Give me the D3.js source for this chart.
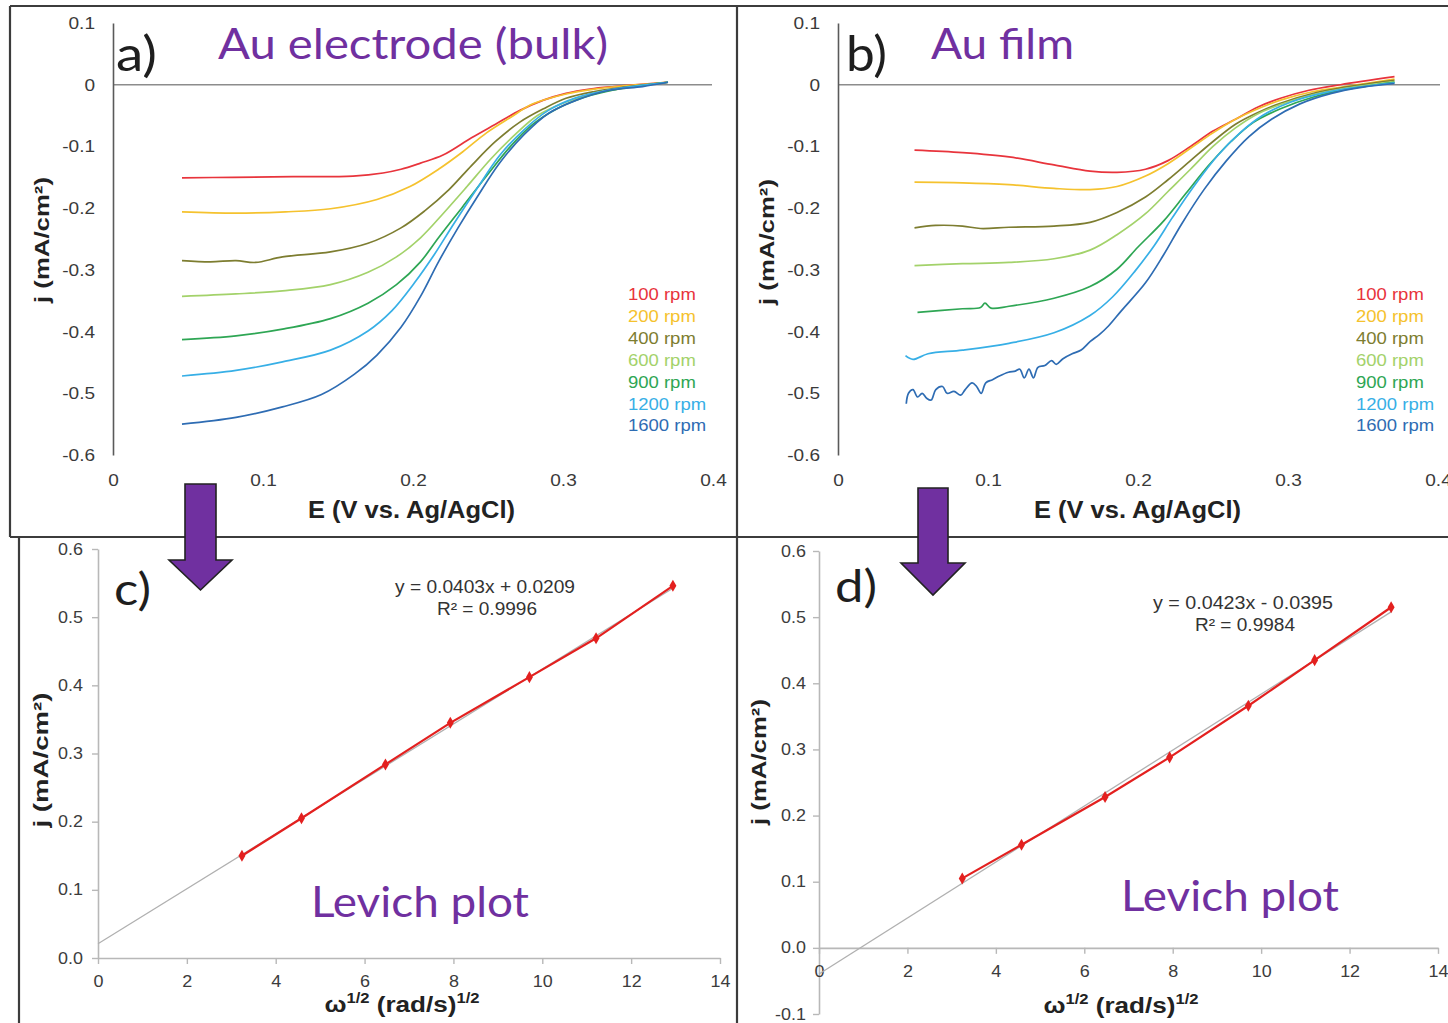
<!DOCTYPE html>
<html><head><meta charset="utf-8">
<script src="https://cdn.jsdelivr.net/npm/d3@7"></script>
<style>
body{margin:0;background:#fff;}
svg{display:block;}
</style></head><body>
<svg id="chart" width="1448" height="1023"></svg>
<script>
// ---------------- DATA ----------------
const rpmLabels = ["100 rpm","200 rpm","400 rpm","600 rpm","900 rpm","1200 rpm","1600 rpm"];
const eTicks = [0, 0.1, 0.2, 0.3, 0.4];
const eTickLabels = ["0","0.1","0.2","0.3","0.4"];
const jTicksLSV = [-0.6,-0.5,-0.4,-0.3,-0.2,-0.1,0,0.1];
const jTickLabelsLSV = ["-0.6","-0.5","-0.4","-0.3","-0.2","-0.1","0","0.1"];

// Panel a: Au electrode (bulk), [E (V), j (mA/cm2)]
const bulk100 = [[0.046,-0.151],[0.08,-0.150],[0.12,-0.149],[0.16,-0.148],[0.18,-0.143],[0.192,-0.137],[0.205,-0.127],[0.22,-0.114],[0.239,-0.086],[0.255,-0.064],[0.271,-0.042],[0.287,-0.025],[0.302,-0.014],[0.318,-0.007],[0.334,-0.003],[0.35,0.0],[0.37,0.004]];
const bulk200 = [[0.046,-0.206],[0.082,-0.208],[0.115,-0.206],[0.145,-0.201],[0.176,-0.186],[0.198,-0.165],[0.217,-0.137],[0.233,-0.109],[0.249,-0.078],[0.265,-0.053],[0.28,-0.031],[0.302,-0.015],[0.321,-0.007],[0.34,-0.002],[0.37,0.004]];
const bulk400 = [[0.046,-0.285],[0.065,-0.287],[0.082,-0.285],[0.095,-0.288],[0.113,-0.279],[0.145,-0.271],[0.17,-0.257],[0.192,-0.232],[0.208,-0.204],[0.224,-0.170],[0.239,-0.131],[0.255,-0.092],[0.271,-0.061],[0.287,-0.039],[0.302,-0.022],[0.321,-0.011],[0.34,-0.004],[0.37,0.004]];
const bulk600 = [[0.046,-0.343],[0.082,-0.339],[0.113,-0.334],[0.145,-0.324],[0.17,-0.304],[0.189,-0.279],[0.205,-0.248],[0.22,-0.209],[0.236,-0.165],[0.252,-0.120],[0.268,-0.081],[0.283,-0.050],[0.302,-0.028],[0.321,-0.014],[0.343,-0.005],[0.37,0.004]];
const bulk900 = [[0.046,-0.413],[0.082,-0.407],[0.113,-0.396],[0.145,-0.379],[0.17,-0.354],[0.189,-0.324],[0.205,-0.287],[0.217,-0.248],[0.233,-0.198],[0.249,-0.148],[0.265,-0.100],[0.28,-0.064],[0.296,-0.039],[0.315,-0.020],[0.337,-0.007],[0.37,0.004]];
const bulk1200 = [[0.046,-0.472],[0.082,-0.463],[0.113,-0.449],[0.145,-0.430],[0.17,-0.399],[0.186,-0.366],[0.201,-0.321],[0.214,-0.276],[0.227,-0.226],[0.243,-0.167],[0.258,-0.114],[0.274,-0.073],[0.29,-0.042],[0.309,-0.021],[0.334,-0.007],[0.37,0.004]];
const bulk1600 = [[0.046,-0.550],[0.082,-0.539],[0.113,-0.522],[0.139,-0.502],[0.161,-0.469],[0.176,-0.438],[0.192,-0.393],[0.205,-0.343],[0.217,-0.287],[0.23,-0.232],[0.243,-0.181],[0.258,-0.126],[0.274,-0.081],[0.29,-0.047],[0.309,-0.025],[0.331,-0.009],[0.353,-0.003],[0.37,0.004]];

// Panel b: Au film
const film100 = [[0.051,-0.106],[0.083,-0.110],[0.114,-0.117],[0.144,-0.130],[0.168,-0.140],[0.186,-0.142],[0.205,-0.137],[0.22,-0.123],[0.235,-0.100],[0.25,-0.075],[0.265,-0.056],[0.28,-0.036],[0.295,-0.022],[0.314,-0.009],[0.335,0.0],[0.371,0.013]];
const film200 = [[0.051,-0.158],[0.083,-0.159],[0.114,-0.162],[0.144,-0.168],[0.168,-0.170],[0.186,-0.165],[0.205,-0.148],[0.22,-0.128],[0.235,-0.103],[0.25,-0.078],[0.265,-0.056],[0.28,-0.039],[0.295,-0.025],[0.317,-0.011],[0.338,-0.003],[0.371,0.009]];
const film400 = [[0.051,-0.232],[0.065,-0.228],[0.083,-0.229],[0.095,-0.233],[0.114,-0.231],[0.144,-0.229],[0.168,-0.223],[0.186,-0.207],[0.205,-0.182],[0.22,-0.154],[0.235,-0.123],[0.25,-0.092],[0.265,-0.064],[0.28,-0.045],[0.295,-0.030],[0.317,-0.014],[0.338,-0.004],[0.371,0.007]];
const film600 = [[0.051,-0.293],[0.083,-0.290],[0.114,-0.288],[0.144,-0.282],[0.168,-0.268],[0.186,-0.243],[0.205,-0.209],[0.22,-0.173],[0.235,-0.137],[0.25,-0.100],[0.265,-0.070],[0.28,-0.047],[0.295,-0.032],[0.317,-0.016],[0.338,-0.006],[0.371,0.005]];
const film900 = [[0.053,-0.369],[0.083,-0.363],[0.095,-0.361],[0.098,-0.354],[0.102,-0.362],[0.114,-0.359],[0.144,-0.346],[0.168,-0.327],[0.186,-0.299],[0.2,-0.263],[0.217,-0.221],[0.232,-0.176],[0.247,-0.131],[0.262,-0.092],[0.277,-0.061],[0.295,-0.039],[0.317,-0.020],[0.338,-0.008],[0.371,0.004]];
const film1200 = [[0.045,-0.439],[0.05,-0.445],[0.06,-0.436],[0.083,-0.430],[0.114,-0.419],[0.144,-0.402],[0.168,-0.374],[0.183,-0.344],[0.198,-0.302],[0.211,-0.260],[0.223,-0.215],[0.238,-0.162],[0.253,-0.115],[0.268,-0.078],[0.283,-0.050],[0.302,-0.028],[0.326,-0.012],[0.35,-0.003],[0.371,0.003]];
const film1600 = [[0.0455,-0.517],[0.047,-0.500],[0.050,-0.494],[0.053,-0.506],[0.0561,-0.500],[0.0591,-0.508],[0.0621,-0.511],[0.0652,-0.494],[0.0697,-0.489],[0.0727,-0.500],[0.0773,-0.497],[0.0818,-0.503],[0.0848,-0.494],[0.0894,-0.483],[0.0924,-0.489],[0.0955,-0.500],[0.0985,-0.483],[0.103,-0.478],[0.1076,-0.472],[0.1136,-0.466],[0.1182,-0.464],[0.1212,-0.461],[0.1242,-0.475],[0.1273,-0.461],[0.1303,-0.475],[0.1333,-0.458],[0.1379,-0.455],[0.1424,-0.447],[0.1455,-0.453],[0.15,-0.444],[0.1561,-0.436],[0.1621,-0.430],[0.1682,-0.416],[0.1742,-0.405],[0.1803,-0.391],[0.189,-0.366],[0.205,-0.321],[0.217,-0.276],[0.229,-0.226],[0.244,-0.170],[0.259,-0.123],[0.274,-0.084],[0.289,-0.056],[0.308,-0.031],[0.329,-0.014],[0.35,-0.004],[0.371,0.002]];

// Levich plots
const sqrtOmega = [3.24, 4.58, 6.47, 7.93, 9.71, 11.21, 12.94];
const levichBulk = [0.150, 0.205, 0.284, 0.345, 0.412, 0.469, 0.546];
const levichFilm = [0.105, 0.156, 0.228, 0.288, 0.366, 0.435, 0.515];
const trendBulk = [[0, 0.0209], [12.94, 0.5424]];
const trendFilm = [[0, -0.0395], [12.94, 0.5079]];
const omegaTicks = [0, 2, 4, 6, 8, 10, 12, 14];
const jTicksBulk = [0, 0.1, 0.2, 0.3, 0.4, 0.5, 0.6];
const jTickLabelsBulk = ["0.0","0.1","0.2","0.3","0.4","0.5","0.6"];
const jTicksFilm = [-0.1, 0, 0.1, 0.2, 0.3, 0.4, 0.5, 0.6];
const jTickLabelsFilm = ["-0.1","0.0","0.1","0.2","0.3","0.4","0.5","0.6"];
const eqBulk = ["y = 0.0403x + 0.0209", "R\u00B2 = 0.9996"];
const eqFilm = ["y = 0.0423x - 0.0395", "R\u00B2 = 0.9984"];

// ---------------- STYLE ----------------
const rpmColors = ["#e8343c","#f5c22e","#7d7d30","#a3d26a","#2ea654","#37afe6","#2e6cb3"];
const SANS = "'Liberation Sans', Arial, sans-serif";
const CAL = "Lato, 'Open Sans', sans-serif";
const PURPLE = "#7030a0";
const STRETCH = 1.12;

const svg = d3.select("#chart");

function stretchText(sel, f){
  sel.each(function(){
    const w = this.getComputedTextLength();
    if (w > 0){ this.setAttribute("textLength", (w*f).toFixed(1)); this.setAttribute("lengthAdjust","spacingAndGlyphs"); }
  });
}
function fitText(sel, w){ sel.attr("textLength", w).attr("lengthAdjust","spacingAndGlyphs"); }

// ---------------- FRAMES ----------------
const frame = svg.append("g").attr("stroke","#3c3c3c").attr("stroke-width",2.2);
[[10,6,1448,6],[10,6,10,537],[737,6,737,1023],[10,537,1448,537],[19,537,19,1023]].forEach(l=>{
  frame.append("line").attr("x1",l[0]).attr("y1",l[1]).attr("x2",l[2]).attr("y2",l[3]);
});

// ---------------- LSV PANELS ----------------
function lsvPanel(cfg){
  const x = d3.scaleLinear().domain([0,0.4]).range([cfg.x0, cfg.x1]);
  const y = d3.scaleLinear().domain([-0.6,0.1]).range([cfg.yBot, cfg.yTop]);
  const g = svg.append("g");
  g.append("line").attr("x1",x(0)).attr("x2",cfg.zeroEnd).attr("y1",y(0)).attr("y2",y(0))
    .attr("stroke","#8c8c8c").attr("stroke-width",1.6);
  const ya = g.append("g").attr("transform",`translate(${x(0)},0)`)
    .call(d3.axisLeft(y).tickValues(jTicksLSV).tickFormat((d,i)=>jTickLabelsLSV[i]).tickSize(0).tickSizeOuter(0).tickPadding(18));
  ya.select(".domain").attr("stroke","#5a5a5a").attr("stroke-width",1.6);
  const xa = g.append("g").attr("transform",`translate(0,${cfg.xLabY})`)
    .call(d3.axisBottom(x).tickValues(eTicks).tickFormat((d,i)=>eTickLabels[i]).tickSize(0).tickPadding(0));
  xa.select(".domain").remove();
  [ya, xa].forEach(a=>{
    a.attr("font-family",SANS).attr("font-size",17);
    a.selectAll("text").attr("fill","#3a3a3a");
    stretchText(a.selectAll("text"), STRETCH);
  });
  const line = d3.line().x(d=>x(d[0])).y(d=>y(d[1])).curve(d3.curveCatmullRom.alpha(0.5));
  cfg.curves.forEach((c,i)=>{
    g.append("path").attr("d", line(c)).attr("fill","none").attr("stroke",rpmColors[i]).attr("stroke-width",1.7);
  });
  const lg = g.append("g").attr("font-family",SANS).attr("font-size",16.5);
  rpmLabels.forEach((t,i)=>{
    lg.append("text").attr("x",cfg.legX).attr("y",cfg.legY + i*21.95).attr("dy","0.35em")
      .attr("fill",rpmColors[i]).text(t);
  });
  stretchText(lg.selectAll("text"), STRETCH);
  // axis titles
  const xt = g.append("text").attr("x",cfg.xTitleX).attr("y",518).attr("text-anchor","middle")
    .attr("font-family",SANS).attr("font-weight","bold").attr("font-size",23).attr("fill","#222")
    .text("E (V vs. Ag/AgCl)");
  fitText(xt, 207);
  const yt = g.append("text").attr("transform",`translate(${cfg.yTitleX},${cfg.yTitleY}) rotate(-90)`)
    .attr("text-anchor","middle").attr("font-family",SANS).attr("font-weight","bold").attr("font-size",20).attr("fill","#222")
    .text("j (mA/cm\u00B2)");
  fitText(yt, 126);
  // panel letter + title
  const lt = g.append("text").attr("x",cfg.letterX).attr("y",71).attr("font-family",CAL).attr("font-size",49).attr("fill","#1e1e1e").text(cfg.letter);
  fitText(lt, 41);
  const tt = g.append("text").attr("x",cfg.titleX).attr("y",58.5).attr("font-family",CAL).attr("font-size",43).attr("fill",PURPLE).text(cfg.title);
  fitText(tt, cfg.titleW);
}

lsvPanel({x0:113, x1:713, yTop:23, yBot:455, zeroEnd:712, xLabY:474,
  curves:[bulk100,bulk200,bulk400,bulk600,bulk900,bulk1200,bulk1600],
  legX:628, legY:294, xTitleX:411.5, yTitleX:49, yTitleY:240,
  letter:"a)", letterX:116, title:"Au electrode (bulk)", titleX:218, titleW:390});
lsvPanel({x0:838, x1:1438, yTop:23, yBot:455, zeroEnd:1440, xLabY:474,
  curves:[film100,film200,film400,film600,film900,film1200,film1600],
  legX:1356, legY:294, xTitleX:1137.5, yTitleX:774, yTitleY:242,
  letter:"b)", letterX:846, title:"Au film", titleX:931, titleW:143});

// ---------------- LEVICH PANELS ----------------
function levichPanel(cfg){
  const x = d3.scaleLinear().domain([0,14]).range([cfg.x0, cfg.x1]);
  const y = d3.scaleLinear().domain(cfg.yDomain).range([cfg.yBot, cfg.yTop]);
  const g = svg.append("g");
  const ya = g.append("g").attr("transform",`translate(${x(0)},0)`)
    .call(d3.axisLeft(y).tickValues(cfg.yTicks).tickFormat((d,i)=>cfg.yLabels[i]).tickSize(6).tickSizeOuter(0).tickPadding(cfg.yPad));
  const xa = g.append("g").attr("transform",`translate(0,${y(0)})`)
    .call(d3.axisBottom(x).tickValues(omegaTicks).tickFormat(d=>String(d)).tickSize(6).tickSizeOuter(0).tickPadding(12));
  [ya, xa].forEach(a=>{
    a.attr("font-family",SANS).attr("font-size",16);
    a.select(".domain").attr("stroke","#b8b8b8").attr("stroke-width",1.6);
    a.selectAll(".tick line").attr("stroke","#b8b8b8").attr("stroke-width",1.4);
    a.selectAll("text").attr("fill","#3c3c3c");
    stretchText(a.selectAll("text"), STRETCH);
  });
  const line = d3.line().x(d=>x(d[0])).y(d=>y(d[1]));
  g.append("path").attr("d", line(cfg.trend)).attr("fill","none").attr("stroke","#b0b0b0").attr("stroke-width",1.3);
  const pts = sqrtOmega.map((v,i)=>[v, cfg.values[i]]);
  g.append("path").attr("d", line(pts)).attr("fill","none").attr("stroke","#e3201f").attr("stroke-width",2.2);
  g.selectAll("path.mk").data(pts).enter().append("path").attr("class","mk")
    .attr("transform",d=>`translate(${x(d[0])},${y(d[1])})`)
    .attr("d", d3.symbol(d3.symbolDiamond, 42)).attr("fill","#e3201f");
  // equation
  const eg = g.append("g").attr("font-family",SANS).attr("font-size",18).attr("fill","#333").attr("text-anchor","middle");
  const e1 = eg.append("text").attr("x",cfg.eqX).attr("y",cfg.eqY).text(cfg.eq[0]);
  fitText(e1, 180);
  const e2 = eg.append("text").attr("x",cfg.eqX+2).attr("y",cfg.eqY+22).text(cfg.eq[1]);
  fitText(e2, 100);
  // axis titles
  const xt = g.append("text").attr("x",cfg.xTitleX).attr("y",cfg.xTitleY).attr("text-anchor","middle")
    .attr("font-family",SANS).attr("font-weight","bold").attr("font-size",22).attr("fill","#222");
  xt.append("tspan").text("\u03C9");
  xt.append("tspan").attr("dy",-9).attr("font-size",14).text("1/2");
  xt.append("tspan").attr("dy",9).text(" (rad/s)");
  xt.append("tspan").attr("dy",-9).attr("font-size",14).text("1/2");
  fitText(xt, 155);
  const yt = g.append("text").attr("transform",`translate(${cfg.yTitleX},${cfg.yTitleY}) rotate(-90)`)
    .attr("text-anchor","middle").attr("font-family",SANS).attr("font-weight","bold").attr("font-size",20).attr("fill","#222")
    .text("j (mA/cm\u00B2)");
  fitText(yt, cfg.yTitleW);
  const lt = g.append("text").attr("x",cfg.letterX).attr("y",cfg.letterY).attr("font-family",CAL).attr("font-size",44).attr("fill","#1e1e1e").text(cfg.letter);
  fitText(lt, cfg.letterW);
  const lv = g.append("text").attr("x",cfg.levX).attr("y",cfg.levY).attr("font-family",CAL).attr("font-size",43).attr("fill",PURPLE).text("Levich plot");
  fitText(lv, 218);
}

levichPanel({x0:98, x1:720, yTop:549, yBot:958, yDomain:[0,0.6], yTicks:jTicksBulk, yLabels:jTickLabelsBulk, yPad:9,
  values:levichBulk, trend:trendBulk, eq:eqBulk, eqX:485, eqY:593,
  xTitleX:402, xTitleY:1012, yTitleX:48, yTitleY:760, yTitleW:135,
  letter:"c)", letterX:114, letterY:605, letterW:37, levX:311, levY:917});
levichPanel({x0:819, x1:1438, yTop:551, yBot:1014, yDomain:[-0.1,0.6], yTicks:jTicksFilm, yLabels:jTickLabelsFilm, yPad:7,
  values:levichFilm, trend:trendFilm, eq:eqFilm, eqX:1243, eqY:609,
  xTitleX:1121, xTitleY:1013, yTitleX:766, yTitleY:762, yTitleW:126,
  letter:"d)", letterX:835, letterY:602, letterW:42, levX:1121, levY:911});

// ---------------- ARROWS ----------------
function arrow(xl, xr, top, headY, hl, hr, tipY){
  const cx = (hl+hr)/2;
  svg.append("path")
    .attr("d", `M${xl},${top}H${xr}V${headY}H${hr}L${cx},${tipY}L${hl},${headY}H${xl}Z`)
    .attr("fill", PURPLE).attr("stroke","#222").attr("stroke-width",1.6).attr("stroke-linejoin","miter");
}
arrow(185, 216, 484, 560, 169, 232, 590);
arrow(918, 948, 488, 563, 901, 965, 595);
</script>
</body></html>
